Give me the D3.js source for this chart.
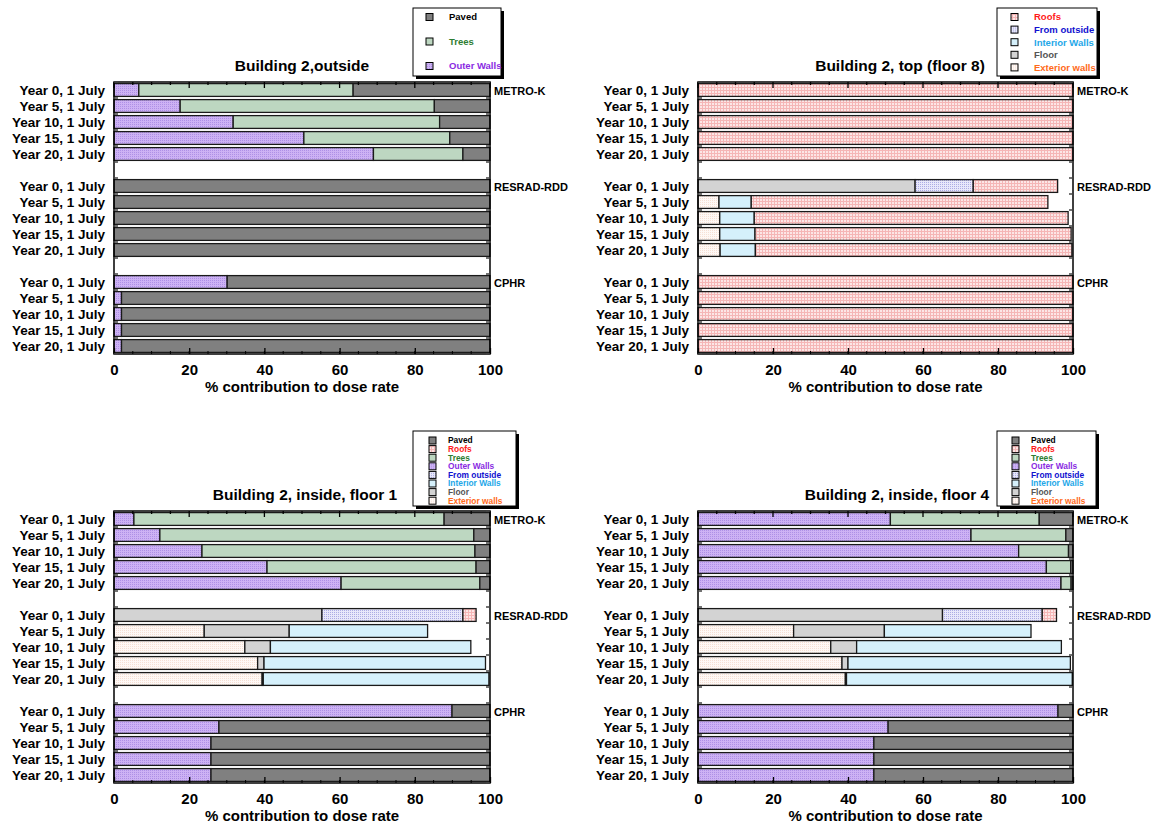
<!DOCTYPE html>
<html>
<head>
<meta charset="utf-8">
<script src="https://cdn.jsdelivr.net/npm/d3@7"></script>
<style>
  body { margin: 0; background: #fff; }
  text { font-family: "Liberation Sans", Arial, sans-serif; font-weight: bold; }
</style>
</head>
<body>
<svg width="1155" height="828"></svg>
<script>
// rows: METRO-K years 0..20, RESRAD-RDD years 0..20, CPHR years 0..20
const years = ["Year 0, 1 July", "Year 5, 1 July", "Year 10, 1 July", "Year 15, 1 July", "Year 20, 1 July"];
const models = ["METRO-K", "RESRAD-RDD", "CPHR"];
const stackOrder = ["Exterior walls", "Floor", "Interior Walls", "From outside", "Outer Walls", "Trees", "Roofs", "Paved"];
const xTicks = [0, 20, 40, 60, 80, 100];

// Building 2, outside
const outsideOuterWalls = [6.6, 17.6, 31.7, 50.5, 69.0, 0, 0, 0, 0, 0, 30.1, 2.0, 2.0, 2.0, 2.0];
const outsideTrees = [57.0, 67.6, 54.9, 38.8, 23.8, 0, 0, 0, 0, 0, 0, 0, 0, 0, 0];
const outsidePaved = [36.4, 14.8, 13.4, 10.7, 7.2, 100, 100, 100, 100, 100, 69.9, 98.0, 98.0, 98.0, 98.0];

// Building 2, top (floor 8)
const floor8Roofs = [100, 100, 100, 100, 100, 22.5, 79.1, 83.7, 84.3, 84.4, 100, 100, 100, 100, 100];
const floor8FromOutside = [0, 0, 0, 0, 0, 15.5, 0, 0, 0, 0, 0, 0, 0, 0, 0];
const floor8InteriorWalls = [0, 0, 0, 0, 0, 0, 8.6, 9.2, 9.4, 9.4, 0, 0, 0, 0, 0];
const floor8Floor = [0, 0, 0, 0, 0, 57.9, 0, 0, 0, 0, 0, 0, 0, 0, 0];
const floor8ExteriorWalls = [0, 0, 0, 0, 0, 0, 5.6, 5.8, 5.8, 5.9, 0, 0, 0, 0, 0];

// Building 2, inside, floor 1
const floor1Paved = [12.2, 4.3, 4.0, 3.7, 2.7, 0, 0, 0, 0, 0, 10.1, 72.1, 74.2, 74.2, 74.2];
const floor1Roofs = [0, 0, 0, 0, 0, 3.5, 0, 0, 0, 0, 0, 0, 0, 0, 0];
const floor1Trees = [82.5, 83.5, 72.6, 55.6, 36.9, 0, 0, 0, 0, 0, 0, 0, 0, 0, 0];
const floor1OuterWalls = [5.3, 12.2, 23.4, 40.7, 60.4, 0, 0, 0, 0, 0, 89.9, 27.9, 25.8, 25.8, 25.8];
const floor1FromOutside = [0, 0, 0, 0, 0, 37.5, 0, 0, 0, 0, 0, 0, 0, 0, 0];
const floor1InteriorWalls = [0, 0, 0, 0, 0, 0, 36.8, 53.3, 58.9, 60.0, 0, 0, 0, 0, 0];
const floor1Floor = [0, 0, 0, 0, 0, 55.3, 22.6, 6.8, 1.7, 0.3, 0, 0, 0, 0, 0];
const floor1ExteriorWalls = [0, 0, 0, 0, 0, 0, 24.0, 34.8, 38.2, 39.4, 0, 0, 0, 0, 0];

// Building 2, inside, floor 4
const floor4Paved = [9.0, 1.9, 1.2, 0.6, 0.5, 0, 0, 0, 0, 0, 4.0, 49.3, 53.1, 53.1, 53.1];
const floor4Roofs = [0, 0, 0, 0, 0, 3.8, 0, 0, 0, 0, 0, 0, 0, 0, 0];
const floor4Trees = [39.7, 25.3, 13.3, 6.5, 2.7, 0, 0, 0, 0, 0, 0, 0, 0, 0, 0];
const floor4OuterWalls = [51.3, 72.8, 85.5, 92.9, 96.8, 0, 0, 0, 0, 0, 96.0, 50.7, 46.9, 46.9, 46.9];
const floor4FromOutside = [0, 0, 0, 0, 0, 26.6, 0, 0, 0, 0, 0, 0, 0, 0, 0];
const floor4InteriorWalls = [0, 0, 0, 0, 0, 0, 39.1, 54.6, 59.3, 60.2, 0, 0, 0, 0, 0];
const floor4Floor = [0, 0, 0, 0, 0, 65.2, 24.2, 6.9, 1.6, 0.3, 0, 0, 0, 0, 0];
const floor4ExteriorWalls = [0, 0, 0, 0, 0, 0, 25.5, 35.4, 38.4, 39.3, 0, 0, 0, 0, 0];

const svg = d3.select("svg");
const defs = svg.append("defs");

// dotted / gridded fills like the original
function dotPattern(id, bg, dot) {
  const p = defs.append("pattern").attr("id", id).attr("patternUnits", "userSpaceOnUse")
    .attr("width", 2).attr("height", 2);
  p.append("rect").attr("width", 2).attr("height", 2).attr("fill", bg);
  p.append("rect").attr("width", 1).attr("height", 1).attr("fill", dot);
}
function gridPattern(id, bg, line) {
  const p = defs.append("pattern").attr("id", id).attr("patternUnits", "userSpaceOnUse")
    .attr("width", 3).attr("height", 3);
  p.append("rect").attr("width", 3).attr("height", 3).attr("fill", bg);
  p.append("rect").attr("width", 3).attr("height", 1).attr("fill", line);
  p.append("rect").attr("width", 1).attr("height", 3).attr("fill", line);
}
dotPattern("pOuter", "#cdb2f4", "#ae90e6");
gridPattern("pRoofs", "#fce6e6", "#f5b6b6");
dotPattern("pFromOut", "#e8e8fa", "#acacE4");
dotPattern("pExterior", "#fef8f5", "#f6e0d5");

const fill = {
  "Paved": "#808080",
  "Roofs": "url(#pRoofs)",
  "Trees": "#bdd7c1",
  "Outer Walls": "url(#pOuter)",
  "From outside": "url(#pFromOut)",
  "Interior Walls": "#d5f0fb",
  "Floor": "#d3d3d3",
  "Exterior walls": "url(#pExterior)"
};
const textColor = {
  "Paved": "#000",
  "Roofs": "#ff1a1a",
  "Trees": "#2e7d32",
  "Outer Walls": "#8a2be2",
  "From outside": "#1010d0",
  "Interior Walls": "#1ea7e8",
  "Floor": "#555",
  "Exterior walls": "#ff6a1a"
};

const fullLegend = ["Paved", "Roofs", "Trees", "Outer Walls", "From outside", "Interior Walls", "Floor", "Exterior walls"];

const panels = [
  {
    title: "Building 2,outside", titleX: 302, x0: 114, x1: 490, y0: 82,
    series: { "Outer Walls": outsideOuterWalls, "Trees": outsideTrees, "Paved": outsidePaved },
    legend: { keys: ["Paved", "Trees", "Outer Walls"], x: 413, y: 8, w: 88, h: 68, step: 24.5, first: 9, sq: 17, tx: 36, fs: 9.5 }
  },
  {
    title: "Building 2, top (floor 8)", titleX: 900, x0: 698, x1: 1073, y0: 82,
    series: { "Roofs": floor8Roofs, "From outside": floor8FromOutside, "Interior Walls": floor8InteriorWalls,
              "Floor": floor8Floor, "Exterior walls": floor8ExteriorWalls },
    legend: { keys: ["Roofs", "From outside", "Interior Walls", "Floor", "Exterior walls"], x: 997, y: 8, w: 100, h: 68, step: 12.6, first: 9, sq: 18, tx: 37, fs: 9.5 }
  },
  {
    title: "Building 2, inside, floor 1", titleX: 305, x0: 114, x1: 490, y0: 511,
    series: { "Paved": floor1Paved, "Roofs": floor1Roofs, "Trees": floor1Trees, "Outer Walls": floor1OuterWalls,
              "From outside": floor1FromOutside, "Interior Walls": floor1InteriorWalls, "Floor": floor1Floor,
              "Exterior walls": floor1ExteriorWalls },
    legend: { keys: fullLegend, x: 413, y: 431, w: 103, h: 75, step: 8.6, first: 9.5, sq: 20, tx: 35, fs: 8.4 }
  },
  {
    title: "Building 2, inside, floor 4", titleX: 897, x0: 698, x1: 1073, y0: 511,
    series: { "Paved": floor4Paved, "Roofs": floor4Roofs, "Trees": floor4Trees, "Outer Walls": floor4OuterWalls,
              "From outside": floor4FromOutside, "Interior Walls": floor4InteriorWalls, "Floor": floor4Floor,
              "Exterior walls": floor4ExteriorWalls },
    legend: { keys: fullLegend, x: 997, y: 431, w: 99, h: 75, step: 8.6, first: 9.5, sq: 19, tx: 34, fs: 8.4 }
  }
];

// 17 category slots: 5 rows, gap, 5 rows, gap, 5 rows
const slots = [];
models.forEach((m, mi) => {
  years.forEach((y, yi) => slots.push({ id: m + "|" + yi, model: m, year: y, idx: mi * 5 + yi }));
  if (mi < models.length - 1) slots.push({ id: "gap" + mi, gap: true });
});
const rowH = 16;

panels.forEach(p => drawPanel(p));

function drawPanel(p) {
  const g = svg.append("g");
  const x = d3.scaleLinear().domain([0, 100]).range([p.x0, p.x1]);
  const y = d3.scaleBand().domain(slots.map(s => s.id))
    .range([p.y0, p.y0 + rowH * slots.length]).paddingInner(0.2).paddingOuter(0.1);
  const yBottom = p.y0 + rowH * slots.length;

  const keys = stackOrder.filter(k => p.series[k]);
  const table = slots.filter(s => !s.gap).map(s => {
    const row = { id: s.id };
    keys.forEach(k => row[k] = p.series[k][s.idx]);
    return row;
  });
  const stacked = d3.stack().keys(keys)(table);

  stacked.forEach(layer => {
    g.append("g").selectAll("rect")
      .data(layer.filter(d => d[1] - d[0] > 0))
      .join("rect")
      .attr("x", d => x(d[0]))
      .attr("y", d => y(d.data.id))
      .attr("width", d => x(d[1]) - x(d[0]))
      .attr("height", y.bandwidth())
      .attr("fill", fill[layer.key])
      .attr("stroke", "#1a1a1a")
      .attr("stroke-width", 1.3);
  });

  // frame
  g.append("rect").attr("x", p.x0).attr("y", p.y0).attr("width", p.x1 - p.x0)
    .attr("height", yBottom - p.y0).attr("fill", "none").attr("stroke", "#000").attr("stroke-width", 1.5);

  // x axis ticks (inside, top and bottom)
  const minor = d3.range(0, 101, 5);
  const bottomAxis = g.append("g").attr("transform", `translate(0,${yBottom})`)
    .call(d3.axisBottom(x).tickValues(xTicks).tickSizeInner(-6).tickSizeOuter(0).tickPadding(10));
  bottomAxis.select(".domain").remove();
  bottomAxis.selectAll("text").attr("font-size", 15).attr("fill", "#000")
    .attr("font-family", "Liberation Sans, Arial, sans-serif").attr("font-weight", "bold");
  bottomAxis.selectAll("line").attr("stroke-width", 1.3);
  g.append("g").selectAll("line").data(minor).join("line")
    .attr("x1", d => x(d)).attr("x2", d => x(d))
    .attr("y1", yBottom).attr("y2", yBottom - 3).attr("stroke", "#000");
  g.append("g").selectAll("line").data(minor).join("line")
    .attr("x1", d => x(d)).attr("x2", d => x(d))
    .attr("y1", p.y0).attr("y2", d => p.y0 + (d % 20 === 0 ? 6 : 3)).attr("stroke", "#000")
    .attr("stroke-width", 1.3);

  // y ticks at category boundaries, both sides, inside
  const bounds = d3.range(0, slots.length + 1).map(i => p.y0 + i * rowH);
  [p.x0, p.x1].forEach((xx, side) => {
    g.append("g").selectAll("line").data(bounds).join("line")
      .attr("x1", xx).attr("x2", side ? xx - 4 : xx + 4)
      .attr("y1", d => d).attr("y2", d => d).attr("stroke", "#444").attr("stroke-width", 1.5);
  });

  // row labels
  g.append("g").selectAll("text").data(slots.filter(s => !s.gap)).join("text")
    .attr("x", p.x0 - 9).attr("y", s => y(s.id) + y.bandwidth() / 2)
    .attr("dy", "0.36em").attr("text-anchor", "end").attr("font-size", 13.5)
    .text(s => s.year);

  // model labels on the right
  g.append("g").selectAll("text").data(models).join("text")
    .attr("x", p.x1 + 4).attr("y", m => y(m + "|0") + y.bandwidth() / 2 + 1)
    .attr("dy", "0.36em").attr("font-size", 11)
    .text(m => m);

  // title and axis title
  g.append("text").attr("x", p.titleX).attr("y", p.y0 - 11).attr("text-anchor", "middle")
    .attr("font-size", 15.5).text(p.title);
  g.append("text").attr("x", (p.x0 + p.x1) / 2).attr("y", yBottom + 38).attr("text-anchor", "middle")
    .attr("font-size", 15).text("% contribution to dose rate");

  // legend box with drop shadow
  const L = p.legend;
  const lg = svg.append("g").attr("transform", `translate(${L.x},${L.y})`);
  lg.append("rect").attr("x", 3).attr("y", 3).attr("width", L.w).attr("height", L.h).attr("fill", "#000");
  lg.append("rect").attr("width", L.w).attr("height", L.h).attr("fill", "#fff")
    .attr("stroke", "#000").attr("stroke-width", 1);
  const items = lg.selectAll("g.item").data(L.keys).join("g").attr("class", "item")
    .attr("transform", (d, i) => `translate(0,${L.first + i * L.step})`);
  items.append("rect").attr("x", L.sq - 4).attr("y", -3.5).attr("width", 7).attr("height", 7)
    .attr("fill", d => fill[d]).attr("stroke", "#000").attr("stroke-width", 1);
  items.append("text").attr("x", L.tx).attr("dy", "0.35em").attr("font-size", L.fs)
    .attr("fill", d => textColor[d]).text(d => d);
}
</script>
</body>
</html>
